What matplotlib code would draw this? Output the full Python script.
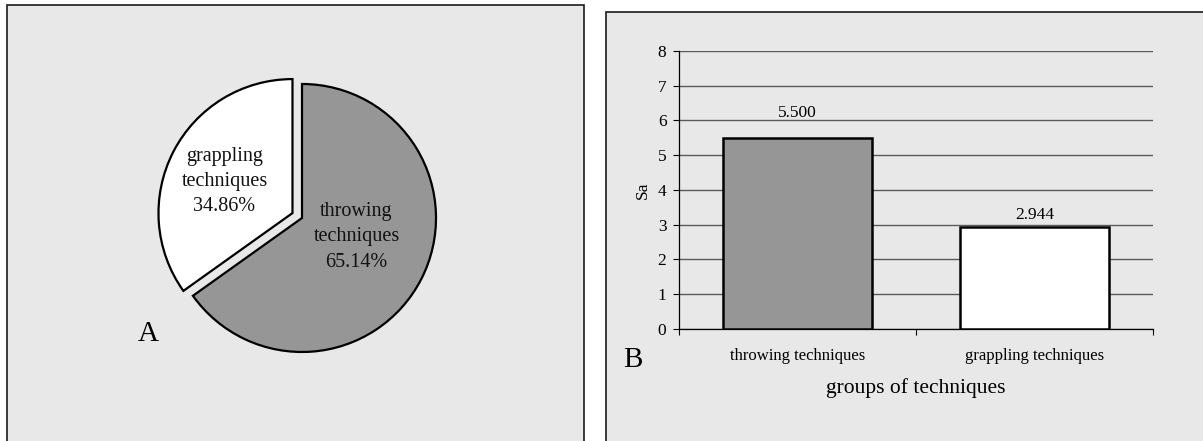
import matplotlib
matplotlib.use('Agg')
import numpy as np
import matplotlib.pyplot as plt
from matplotlib.patches import Rectangle

plt.rcParams['font.family'] = ['Liberation Serif', 'DejaVu Serif']

# Panel A: share of techniques (%)
pie_labels = ['grappling\ntechniques', 'throwing\ntechniques']
pie_shares = [34.86, 65.14]
pie_colors = ['white', '#969696']
pie_explode = [0.08, 0.0]
# label placement (distance from wedge centre in radii, angle in degrees)
label_dist = [0.56, 0.43]
label_ang = [155, -19]

# Panel B: Sa per group
groups = ['throwing techniques', 'grappling techniques']
sa_values = [5.500, 2.944]
bar_colors = ['#969696', 'white']
value_pads = [12, 3]

bg = '#e8e8e8'

fig = plt.figure(figsize=(12.03, 4.41), dpi=100)

# panel frames
fig.add_artist(Rectangle((0.0058, -0.05), 0.4797, 1.0387, transform=fig.transFigure,
                         facecolor=bg, edgecolor='#1a1a1a', lw=1.2, zorder=0))
fig.add_artist(Rectangle((0.5037, -0.05), 0.55, 1.0228, transform=fig.transFigure,
                         facecolor=bg, edgecolor='#1a1a1a', lw=1.2, zorder=0))

# ---- A: pie
ax1 = fig.add_axes([0.1118, 0.1259, 0.2785, 0.7596])
ax1.set_facecolor('none')
wedges, _ = ax1.pie(pie_shares, colors=pie_colors, explode=pie_explode, startangle=90,
                    counterclock=True, wedgeprops=dict(edgecolor='black', linewidth=1.6))
ax1.set_xlim(-1.25, 1.25)
ax1.set_ylim(-1.25, 1.25)
for w, lab, pct, d, a in zip(wedges, pie_labels, pie_shares, label_dist, label_ang):
    cx, cy = w.center
    t = np.deg2rad(a)
    ax1.text(cx + d * np.cos(t), cy + d * np.sin(t), '%s\n%.2f%%' % (lab, pct),
             ha='center', va='center', fontsize=14.5, linespacing=1.45, color='#111111')
fig.text(0.123, 0.2426, 'A', fontsize=21, ha='center', va='center')

# ---- B: bars
ax2 = fig.add_axes([0.5644, 0.2540, 0.3940, 0.6304])
ax2.set_facecolor('none')
xpos = np.arange(len(groups))
ax2.bar(xpos, sa_values, width=0.625, color=bar_colors, edgecolor='black', linewidth=1.8, zorder=3)
for i, v in enumerate(sa_values):
    ax2.annotate('%.3f' % v, xy=(xpos[i], v), xytext=(0, value_pads[i]), textcoords='offset points',
                 ha='center', va='bottom', fontsize=12.5)
ax2.set_xlim(-0.5, 1.5)
ax2.set_ylim(0, 8)
ax2.set_yticks(range(0, 9))
ax2.yaxis.grid(True, color='#5a5a5a', lw=1.0)
ax2.set_axisbelow(True)
ax2.set_xticks([-0.5, 0.5, 1.5])
ax2.set_xticklabels([])
ax2.set_xticks(xpos, minor=True)
ax2.set_xticklabels(groups, minor=True, fontsize=12)
ax2.tick_params(axis='x', which='minor', length=0, pad=14)
ax2.tick_params(axis='x', which='major', length=4, width=0.8, direction='out')
ax2.tick_params(axis='y', length=4, width=0.8, direction='out', labelsize=12.5, pad=5)
for s in ['top', 'right']:
    ax2.spines[s].set_visible(False)
ax2.spines['left'].set_linewidth(0.9)
ax2.spines['bottom'].set_linewidth(0.9)
ax2.set_ylabel('Sa', fontsize=12.5, labelpad=5)
ax2.set_xlabel('groups of techniques', fontsize=15.5, labelpad=10)
fig.text(0.5262, 0.1837, 'B', fontsize=21, ha='center', va='center')

fig.savefig('out.png', dpi=100)
